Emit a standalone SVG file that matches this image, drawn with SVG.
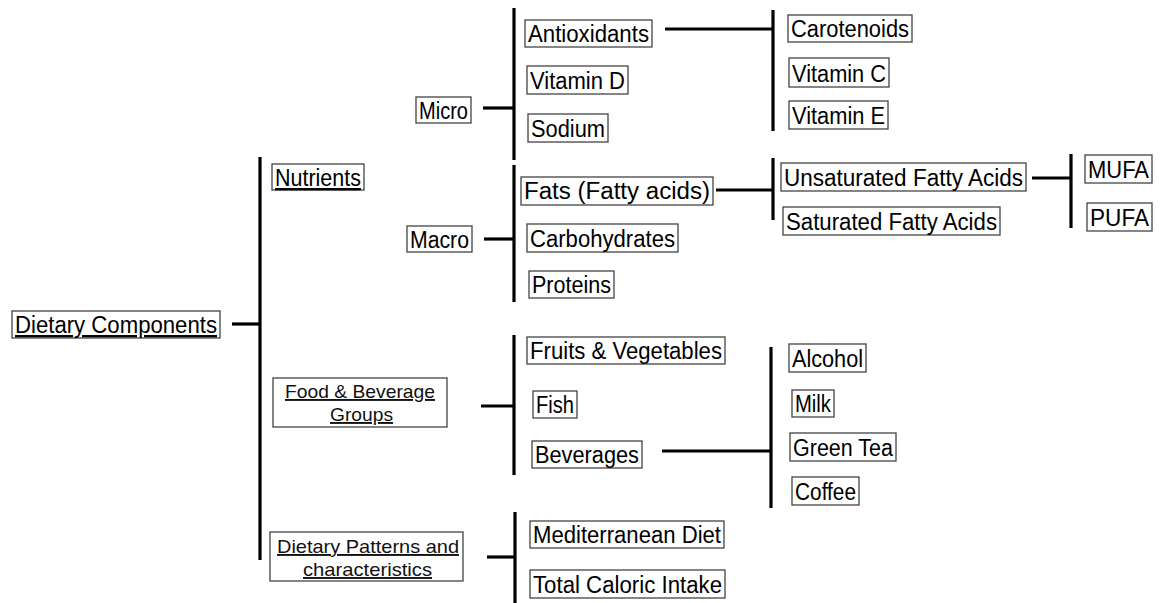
<svg xmlns="http://www.w3.org/2000/svg" width="1163" height="603" viewBox="0 0 1163 603">
<style>
.b{fill:#fff;stroke:#444;stroke-width:1.3}
.t{font-family:"Liberation Sans",Arial,sans-serif;font-size:23px;fill:#000}
.s{font-family:"Liberation Sans",Arial,sans-serif;font-size:19px;fill:#111;text-decoration:underline}
.u{text-decoration:underline}
.c line{stroke:#000;stroke-width:3.2}
</style>
<rect width="1163" height="603" fill="#fff"/>
<g class="c" id="connectors">
<line x1="232" y1="324" x2="260" y2="324"/>
<line x1="260" y1="157" x2="260" y2="560"/>
<line x1="483" y1="108" x2="514" y2="108"/>
<line x1="514" y1="8" x2="514" y2="160"/>
<line x1="665" y1="29" x2="773" y2="29"/>
<line x1="773" y1="10" x2="773" y2="131"/>
<line x1="484" y1="239" x2="514" y2="239"/>
<line x1="514" y1="165" x2="514" y2="302"/>
<line x1="716" y1="190" x2="773" y2="190"/>
<line x1="773" y1="158" x2="773" y2="220"/>
<line x1="1032" y1="178" x2="1071" y2="178"/>
<line x1="1071" y1="154" x2="1071" y2="228"/>
<line x1="481" y1="406" x2="514" y2="406"/>
<line x1="514" y1="335" x2="514" y2="475"/>
<line x1="662" y1="451" x2="771" y2="451"/>
<line x1="771" y1="347" x2="771" y2="508"/>
<line x1="487" y1="557" x2="515" y2="557"/>
<line x1="515" y1="512" x2="515" y2="603"/>
</g>
<g id="dietary-components"><rect class="b" x="12" y="311" width="208" height="27"/><text class="t u" x="15" y="333" textLength="202" lengthAdjust="spacingAndGlyphs">Dietary Components</text></g>
<g id="nutrients"><rect class="b" x="272" y="164" width="92" height="26"/><text class="t u" x="275" y="186" textLength="86" lengthAdjust="spacingAndGlyphs">Nutrients</text></g>
<g id="food-beverage"><rect class="b" x="273" y="378" width="174" height="49"/><text class="s" x="285" y="398" textLength="150" lengthAdjust="spacingAndGlyphs">Food &amp; Beverage</text><text class="s" x="330" y="421" textLength="63" lengthAdjust="spacingAndGlyphs">Groups</text></g>
<g id="dietary-patterns"><rect class="b" x="270" y="532" width="193" height="49"/><text class="s" x="277" y="553" textLength="182" lengthAdjust="spacingAndGlyphs">Dietary Patterns and</text><text class="s" x="303" y="576" textLength="129" lengthAdjust="spacingAndGlyphs">characteristics</text></g>
<g id="micro"><rect class="b" x="416" y="97" width="55" height="26"/><text class="t" x="419" y="119" textLength="49" lengthAdjust="spacingAndGlyphs">Micro</text></g>
<g id="macro"><rect class="b" x="407" y="226" width="65" height="26"/><text class="t" x="410" y="248" textLength="59" lengthAdjust="spacingAndGlyphs">Macro</text></g>
<g id="antioxidants"><rect class="b" x="525" y="20" width="127" height="27"/><text class="t" x="528" y="42" textLength="121" lengthAdjust="spacingAndGlyphs">Antioxidants</text></g>
<g id="vitamin-d"><rect class="b" x="527" y="66" width="101" height="28"/><text class="t" x="530" y="89" textLength="95" lengthAdjust="spacingAndGlyphs">Vitamin D</text></g>
<g id="sodium"><rect class="b" x="528" y="114" width="80" height="28"/><text class="t" x="531" y="137" textLength="74" lengthAdjust="spacingAndGlyphs">Sodium</text></g>
<g id="carotenoids"><rect class="b" x="788" y="15" width="124" height="27"/><text class="t" x="791" y="37" textLength="118" lengthAdjust="spacingAndGlyphs">Carotenoids</text></g>
<g id="vitamin-c"><rect class="b" x="789" y="58" width="100" height="29"/><text class="t" x="792" y="82" textLength="94" lengthAdjust="spacingAndGlyphs">Vitamin C</text></g>
<g id="vitamin-e"><rect class="b" x="789" y="101" width="99" height="28"/><text class="t" x="792" y="124" textLength="93" lengthAdjust="spacingAndGlyphs">Vitamin E</text></g>
<g id="fats"><rect class="b" x="521" y="177" width="192" height="28"/><text class="t" x="524" y="199" textLength="186" lengthAdjust="spacingAndGlyphs">Fats (Fatty acids)</text></g>
<g id="carbohydrates"><rect class="b" x="527" y="224" width="151" height="28"/><text class="t" x="530" y="247" textLength="145" lengthAdjust="spacingAndGlyphs">Carbohydrates</text></g>
<g id="proteins"><rect class="b" x="529" y="271" width="85" height="27"/><text class="t" x="532" y="293" textLength="79" lengthAdjust="spacingAndGlyphs">Proteins</text></g>
<g id="unsaturated"><rect class="b" x="781" y="163" width="245" height="28"/><text class="t" x="784" y="186" textLength="239" lengthAdjust="spacingAndGlyphs">Unsaturated Fatty Acids</text></g>
<g id="saturated"><rect class="b" x="783" y="207" width="217" height="28"/><text class="t" x="786" y="230" textLength="211" lengthAdjust="spacingAndGlyphs">Saturated Fatty Acids</text></g>
<g id="mufa"><rect class="b" x="1085" y="155" width="67" height="28"/><text class="t" x="1088" y="178" textLength="61" lengthAdjust="spacingAndGlyphs">MUFA</text></g>
<g id="pufa"><rect class="b" x="1087" y="203" width="65" height="28"/><text class="t" x="1090" y="226" textLength="59" lengthAdjust="spacingAndGlyphs">PUFA</text></g>
<g id="fruits"><rect class="b" x="527" y="337" width="198" height="27"/><text class="t" x="530" y="359" textLength="192" lengthAdjust="spacingAndGlyphs">Fruits &amp; Vegetables</text></g>
<g id="fish"><rect class="b" x="533" y="391" width="44" height="27"/><text class="t" x="536" y="413" textLength="38" lengthAdjust="spacingAndGlyphs">Fish</text></g>
<g id="beverages"><rect class="b" x="532" y="441" width="110" height="27"/><text class="t" x="535" y="463" textLength="104" lengthAdjust="spacingAndGlyphs">Beverages</text></g>
<g id="alcohol"><rect class="b" x="789" y="344" width="77" height="28"/><text class="t" x="792" y="367" textLength="71" lengthAdjust="spacingAndGlyphs">Alcohol</text></g>
<g id="milk"><rect class="b" x="792" y="390" width="42" height="27"/><text class="t" x="795" y="412" textLength="36" lengthAdjust="spacingAndGlyphs">Milk</text></g>
<g id="green-tea"><rect class="b" x="790" y="433" width="106" height="28"/><text class="t" x="793" y="456" textLength="100" lengthAdjust="spacingAndGlyphs">Green Tea</text></g>
<g id="coffee"><rect class="b" x="792" y="477" width="67" height="28"/><text class="t" x="795" y="500" textLength="61" lengthAdjust="spacingAndGlyphs">Coffee</text></g>
<g id="mediterranean"><rect class="b" x="530" y="521" width="194" height="27"/><text class="t" x="533" y="543" textLength="188" lengthAdjust="spacingAndGlyphs">Mediterranean Diet</text></g>
<g id="caloric"><rect class="b" x="530" y="570" width="195" height="28"/><text class="t" x="533" y="593" textLength="189" lengthAdjust="spacingAndGlyphs">Total Caloric Intake</text></g>
</svg>
